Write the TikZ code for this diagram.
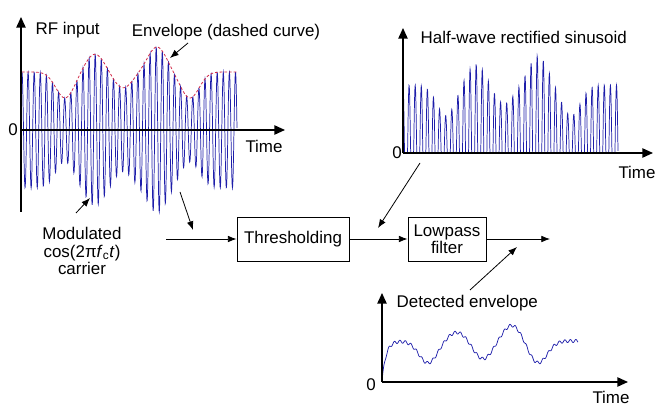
\documentclass[tikz,border=0pt]{standalone}
\usepackage{fontspec}
\setmainfont{Liberation Sans}
\usetikzlibrary{arrows.meta}
\definecolor{sigblue}{RGB}{30,30,170}
\definecolor{envred}{RGB}{210,40,70}
\tikzset{
  declare function={
    gss(\x)=exp(-min((\x/13)*(\x/13),15));
    envA(\x)=58-26*gss(\x-43)+18*gss(\x-73)-16*gss(\x-101)+25*gss(\x-135)-26*gss(\x-168);
    detenv(\x)=(41-22*gss(\x-46)+9*gss(\x-75)-18*gss(\x-101)+16*gss(\x-130)-22*gss(\x-156))*(1-exp(-min(\x/4,15)))+1.5*sin(\x*65.4545);
  },
  axis/.style={line width=1.1pt,-{Triangle[length=8pt,width=7pt]}},
  block/.style={draw,line width=0.7pt,minimum height=33pt,align=center},
  ptr/.style={line width=0.6pt,-{Latex[length=6.5pt,width=5pt]}},
  sig/.style={sigblue,line width=0.55pt},
  every node/.style={font=\fontsize{12.7pt}{12.8pt}\selectfont},
}
\begin{document}
\begin{tikzpicture}[x=0.75pt,y=-0.75pt]
\useasboundingbox (0,0) rectangle (662,420);

% signals
\draw[sig] plot[domain=0:215,samples=801,variable=\xx] ({22+\xx},{130-envA(\xx)*cos(\xx*59.016)});
\draw[envred,line width=0.6pt,dash pattern=on 2pt off 1.5pt] plot[domain=0:215,samples=200,variable=\xx] ({22+\xx},{130-envA(\xx)});
\draw[sig] plot[domain=0:215,samples=1001,variable=\xx] ({403+\xx},{153-1.17*max(0,envA(\xx)*cos(\xx*59.016))});
\draw[sig] plot[domain=0:196,samples=601,variable=\xx] ({382+\xx},{382-detenv(\xx)});

% axes
\foreach \ox/\oy/\ya/\yb/\xr in {21/130/212/17/285, 403/153/153/28/653, 382/382/382/293/628}
{
	\draw[axis] (\ox,\ya) -- (\ox,\yb);
	\draw[axis] (\ox,\oy) -- (\xr,\oy);
}

\path (31,30) node[anchor=west] (rfin) {RF input};
\path (226,32) node (envlab) {Envelope (dashed curve)};
\path (13,130) node (zeroA) {0};
\path (264,146) node (timeA) {Time};
\path (397,153) node (zeroB) {0};
\path (416,37) node[anchor=west] (hwlab) {Half-wave rectified sinusoid};
\path (637,172) node (timeB) {Time};
\path (371,385) node (zeroC) {0};
\path (611,397) node (timeC) {Time};
\path (392,303) node[anchor=west] (detlab) {Detected envelope};
\path (82,251) node[align=center] (carrlab) {Modulated\\cos(2π\textit{f}\textsubscript{c}\textit{t})\\carrier};

% blocks
\path (293,239) node[block,minimum width=84pt] (thr) {Thresholding};
\path (447,239) node[block,minimum width=58.5pt] (lpf) {Lowpass\\filter};
\coordinate (in) at (166,239);
\coordinate (out) at (550,239);
\draw[ptr] (in) -- (thr);
\draw[ptr] (thr) -- (lpf);
\draw[ptr] (lpf) -- (out);

% pointers
\coordinate (envtail) at (188,43);
\coordinate (envtip) at (170,58);
\coordinate (cartail) at (76,213);
\coordinate (cartip) at (90,198);
\coordinate (rftail) at (180,192);
\coordinate (rftip) at (193,230);
\coordinate (hwtail) at (420,163);
\coordinate (hwtip) at (378,228);
\coordinate (dettail) at (470,290);
\coordinate (dettip) at (517,247);
\draw[ptr] (envtail) -- (envtip);
\draw[ptr] (cartail) -- (cartip);
\draw[ptr] (rftail) -- (rftip);
\draw[ptr] (hwtail) -- (hwtip);
\draw[ptr] (dettail) -- (dettip);
\end{tikzpicture}
\end{document}
